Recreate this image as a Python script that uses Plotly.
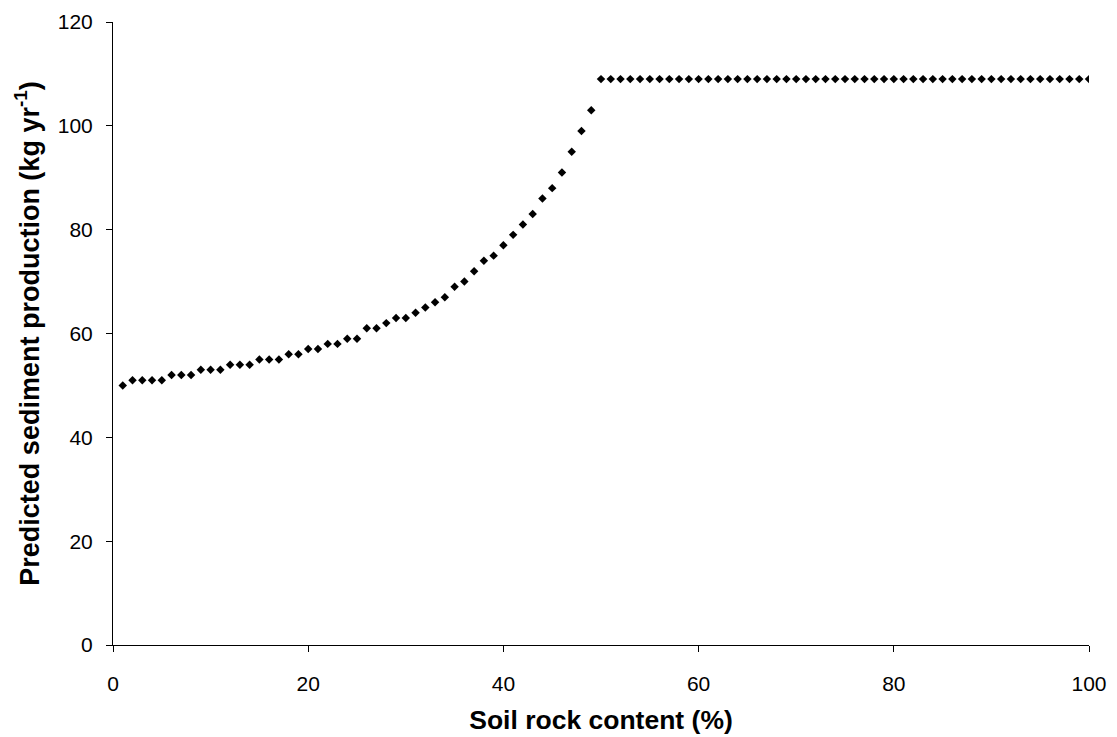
import plotly.graph_objects as go

# Soil rock content (%) and predicted sediment production (kg/yr)
rock_content = list(range(1, 101))
sediment = (
    [50, 51, 51, 51, 51, 52, 52, 52, 53, 53,
     53, 54, 54, 54, 55, 55, 55, 56, 56, 57,
     57, 58, 58, 59, 59, 61, 61, 62, 63, 63,
     64, 65, 66, 67, 69, 70, 72, 74, 75, 77,
     79, 81, 83, 86, 88, 91, 95, 99, 103]
    + [109] * 51
)

x_ticks = [0, 20, 40, 60, 80, 100]
y_ticks = [0, 20, 40, 60, 80, 100, 120]

font_family = "Liberation Sans"

fig = go.Figure(
    go.Scatter(
        x=rock_content,
        y=sediment,
        mode="markers",
        marker=dict(symbol="diamond", size=6.5, color="black", line=dict(width=0)),
        showlegend=False,
    )
)

axis_common = dict(
    showgrid=False,
    zeroline=False,
    showline=True,
    linecolor="black",
    linewidth=1,
    ticks="outside",
    ticklen=6,
    tickcolor="black",
    tickwidth=1,
    tickfont=dict(family=font_family, size=21, color="black"),
)

fig.update_xaxes(
    range=[0, 100],
    tickvals=x_ticks,
    ticklabelstandoff=14,
    title=dict(text="<b>Soil rock content (%)</b>",
               font=dict(family=font_family, size=26.5, color="black"),
               standoff=16),
    **axis_common,
)
fig.update_yaxes(
    range=[0, 120],
    tickvals=y_ticks,
    ticklabelstandoff=9,
    title=dict(text="<b>Predicted sediment production (kg yr<sup>-1</sup>)</b>",
               font=dict(family=font_family, size=27, color="black"),
               standoff=10),
    **axis_common,
)

fig.update_layout(
    width=1117,
    height=737,
    margin=dict(l=113, r=28, t=22, b=92, autoexpand=False),
    plot_bgcolor="white",
    paper_bgcolor="white",
)

fig.write_html("out.html")
